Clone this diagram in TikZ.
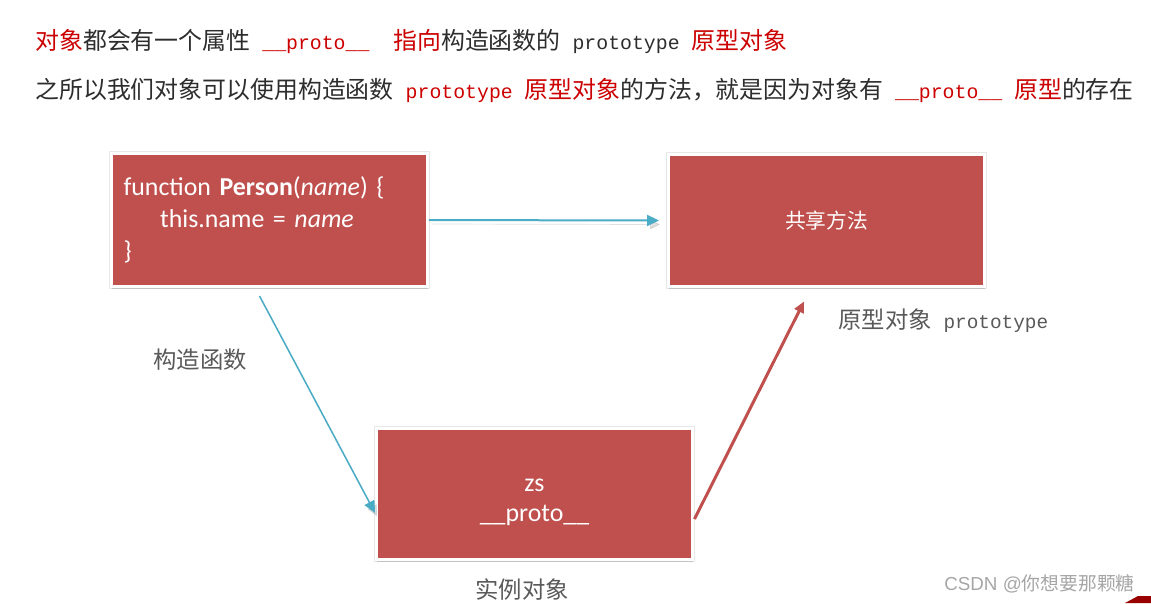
\documentclass[tikz,border=0pt]{standalone}
\usepackage{fontspec}
\setmainfont{Carlito}
\newfontfamily\cjk{Noto Sans CJK SC}
\newfontfamily\mono[Scale=0.83]{Liberation Mono}
\newfontfamily\wmfont{Liberation Sans}
\usetikzlibrary{arrows.meta,shadows}
\definecolor{boxred}{RGB}{192,80,77}
\definecolor{linkblue}{RGB}{75,172,198}
\definecolor{hotred}{RGB}{204,0,0}
\definecolor{inktext}{RGB}{45,45,45}
\definecolor{labelgray}{RGB}{89,89,89}
\newcommand{\hl}[1]{\textcolor{hotred}{#1}}
\tikzset{
  slide box/.style={fill=boxred, draw=white, line width=0.06cm, minimum width=6.32cm,
    preaction={draw=black!9, line width=0.1cm},
    drop shadow={opacity=0.35, shadow xshift=0.4pt, shadow yshift=-1.2pt}, text=white},
  link arrow/.style={draw=linkblue, line width=0.04cm, -{Triangle[length=0.24cm,width=0.22cm]},
    preaction={draw=black, opacity=0.12, transform canvas={shift={(0.05cm,-0.08cm)}}}},
  cjk label/.style={font=\cjk\fontsize{13.3}{16}\selectfont, text=labelgray, inner sep=0pt},
  slide line/.style={anchor=west, inner sep=0pt, text=inktext, font=\cjk\fontsize{13.6}{16}\selectfont}
}
\begin{document}
\begin{tikzpicture}[x=0.02cm,y=-0.02cm]
\fill[white] (0,0) rectangle (1151,603);
\useasboundingbox (0,0) rectangle (1151,603);
\node[slide line] (intro) at (35,41) {\hl{对象}都会有一个属性\hspace{0.5em}\hl{\mono\_\_proto\_\_}\hspace{1em}\hl{指向}构造函数的\hspace{0.5em}{\mono prototype}\hspace{0.5em}\hl{原型对象}};
\node[slide line] (reason) at (35,90) {之所以我们对象可以使用构造函数\hspace{0.5em}\hl{\mono prototype}\hspace{0.5em}\hl{原型对象}的方法，就是因为对象有\hspace{0.5em}\hl{\mono\_\_proto\_\_}\hspace{0.5em}\hl{原型}的存在};
\node[slide box, minimum height=2.66cm, text width=5.84cm, inner xsep=0.24cm, align=left,
  font=\fontsize{14.7}{18.1}\selectfont] (ctor) at (269.5,220)
  {function \textbf{Person}(\textit{name}) \{\\\hspace*{1.42em}this.name = \textit{name}\\\}};
\node[slide box, minimum height=2.64cm, font=\cjk\fontsize{11.8}{14}\selectfont] (proto) at (826.5,220.5) {共享方法};
\node[slide box, minimum height=2.62cm, font=\fontsize{14.7}{17.6}\selectfont] (inst) at (534.5,494)
  {\begin{tabular}{@{}c@{}}\rule{0pt}{19.5pt}zs\\\_\_proto\_\_\end{tabular}};
\draw[link arrow] (ctor.east) -- ([shift={(-8,0)}]proto.west);
\draw[link arrow, line width=0.03cm] ([shift={(-10,8)}]ctor.south) -- ([shift={(0,19)}]inst.west);
\draw[boxred, line width=0.06cm, -{Triangle[length=0.22cm,width=0.2cm]}] ([shift={(0.5,25)}]inst.east) -- ([shift={(-22.5,13.5)}]proto.south);
\node[cjk label] (ctorlabel) at (200,360) {构造函数};
\node[cjk label, anchor=west] (protolabel) at (838,321) {原型对象\hspace{0.5em}{\mono prototype}};
\node[cjk label] (instlabel) at (522,590) {实例对象};
\node[anchor=east, inner sep=0pt, text=black!35, font=\fontsize{10.7}{13}\selectfont] (mark) at (1135,584)
  {{\wmfont CSDN @}{\cjk 你想要那颗糖}};
\fill[red!60!black] (1125,603) -- (1138,596) -- (1151,596) -- (1151,603) -- cycle;
\end{tikzpicture}
\end{document}
